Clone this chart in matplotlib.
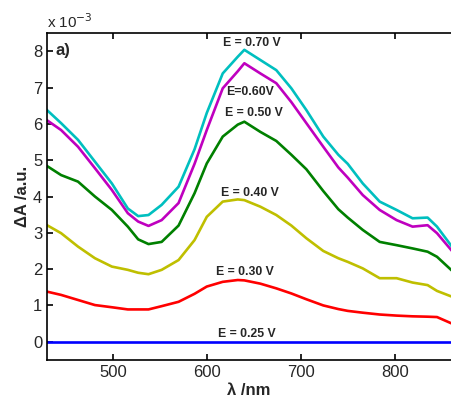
import numpy as np
import matplotlib
matplotlib.use("Agg")
import matplotlib.pyplot as plt

plt.rcParams["font.family"] = ["Liberation Sans", "DejaVu Sans"]

# wavelength grid (nm) and ΔA spectra (units of 1e-3)
wl = [430, 445, 463, 481, 499, 516, 527, 538, 552, 570, 587, 600, 617, 633, 640,
      657, 674, 690, 706, 724, 740, 750, 766, 784, 802, 819, 835, 845, 860]

dA_070 = [6.38, 6.02, 5.56, 4.96, 4.36, 3.67, 3.46, 3.49, 3.77, 4.27, 5.30, 6.30, 7.39, 7.85, 8.04,
          7.76, 7.48, 6.98, 6.38, 5.65, 5.15, 4.90, 4.36, 3.86, 3.63, 3.40, 3.42, 3.17, 2.65]
dA_060 = [6.10, 5.83, 5.37, 4.78, 4.18, 3.54, 3.31, 3.19, 3.35, 3.82, 4.90, 5.83, 6.98, 7.45, 7.67,
          7.39, 7.12, 6.60, 6.02, 5.37, 4.80, 4.52, 4.04, 3.63, 3.35, 3.17, 3.21, 2.99, 2.53]
dA_050 = [4.84, 4.59, 4.41, 4.00, 3.63, 3.17, 2.82, 2.69, 2.75, 3.20, 4.09, 4.91, 5.65, 5.98, 6.06,
          5.78, 5.53, 5.15, 4.75, 4.15, 3.65, 3.42, 3.08, 2.75, 2.66, 2.57, 2.48, 2.34, 1.98]
dA_040 = [3.21, 2.99, 2.62, 2.30, 2.07, 1.98, 1.90, 1.86, 1.98, 2.25, 2.80, 3.44, 3.86, 3.92, 3.90,
          3.72, 3.49, 3.20, 2.85, 2.50, 2.30, 2.20, 2.02, 1.75, 1.75, 1.63, 1.56, 1.40, 1.25]
dA_030 = [1.38, 1.29, 1.15, 1.01, 0.95, 0.89, 0.89, 0.89, 0.98, 1.10, 1.32, 1.52, 1.65, 1.70, 1.69,
          1.60, 1.47, 1.33, 1.17, 1.00, 0.90, 0.85, 0.80, 0.75, 0.72, 0.70, 0.69, 0.68, 0.51]
dA_025 = [0.0] * len(wl)

spectra = [dA_025, dA_030, dA_040, dA_050, dA_060, dA_070]
colors = [(0, 0, 1), (1, 0, 0), (0.75, 0.75, 0), (0, 0.5, 0), (0.75, 0, 0.75), (0, 0.75, 0.75)]
labels = ["E = 0.25 V", "E = 0.30 V", "E = 0.40 V", "E = 0.50 V", "E=0.60V", "E = 0.70 V"]
label_x = [643, 641, 646, 650, 646, 648]
label_y = [0.21, 1.93, 4.10, 6.29, 6.89, 8.24]

fig = plt.figure(figsize=(4.52, 3.99), dpi=100)
ax = fig.add_axes([0.104, 0.098, 0.894, 0.819])

for vals, col in zip(spectra, colors):
    ax.plot(wl, vals, color=col, linewidth=1.9)
for lbl, lx, ly in zip(labels, label_x, label_y):
    ax.text(lx, ly, lbl, fontsize=8.8, fontweight="bold", color="#262626",
            ha="center", va="center")

ax.set_xlim(430, 860)
ax.set_ylim(-0.5, 8.5)
ax.set_xticks([500, 600, 700, 800])
ax.set_yticks(range(0, 9))
ax.tick_params(direction="in", length=4, labelsize=12, top=True, width=1.2,
               labelcolor="#262626")
ax.spines["right"].set_visible(False)
for s in ["left", "bottom", "top"]:
    ax.spines[s].set_linewidth(1.2)

ax.set_xlabel("λ /nm", fontsize=12, fontweight="bold", labelpad=2, color="#262626")
ax.set_ylabel("ΔA /a.u.", fontsize=12, fontweight="bold", labelpad=2, color="#262626")

ax.text(0.02, 0.97, "a)", transform=ax.transAxes, fontsize=12, fontweight="bold",
        ha="left", va="top", color="#262626")
fig.text(0.104, 0.93, "x 10$^{-3}$", fontsize=11, ha="left", va="baseline", color="#262626")

fig.savefig("out.png", dpi=100)
